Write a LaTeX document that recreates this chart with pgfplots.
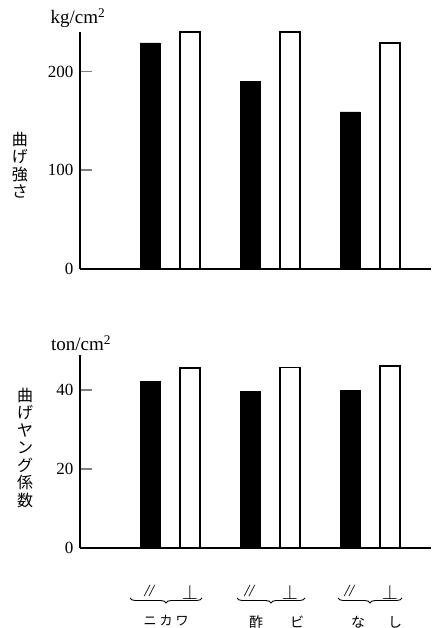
\documentclass[border=0pt]{standalone}
\usepackage{pgfplots}
\pgfplotsset{compat=1.18}
\usepackage{fontspec}
\setmainfont{Liberation Serif}
\newfontfamily\cjk{Noto Sans CJK JP}
\usetikzlibrary{decorations.pathreplacing}
\newcommand{\perpb}{{\fontsize{21}{21}\selectfont$\perp$}}
\begin{document}
\begin{tikzpicture}
\path[use as bounding box] (0pt,0pt) rectangle (431pt,628pt);
\pgfplotsset{myax/.style={
  scale only axis, width=351pt, xmin=0, xmax=35.1, ymin=0,
  axis x line=bottom, axis y line=left,
  axis line style={-, line width=1.3pt},
  tick align=inside, major tick length=12pt,
  ytick style={line width=1.6pt},
  xtick style={draw=none},
  ybar, bar shift=0pt, bar width=20pt,
  tick label style={font=\fontsize{17}{17}\selectfont},
  yticklabel style={xshift=-3pt},
  /pgf/number format/assume math mode=true,
  clip=false,
}}
% top panel: bending strength
\begin{axis}[myax, at={(80pt,359pt)}, anchor=south west, height=237pt,
  ymax=240, ytick={0,100,200}, xtick=\empty]
\addplot[fill=black, draw=black] coordinates {(7,229) (17,190) (27,159)};
\addplot[fill=white, draw=black, line width=1.3pt] coordinates {(11,240) (21,240) (31,229)};
\end{axis}
% bottom panel: bending Young's modulus
\begin{axis}[myax, at={(80pt,80pt)}, anchor=south west, height=193pt,
  ymax=48.9, ytick={0,20,40},
  xtick={7,11,17,21,27,31},
  xticklabels={\textit{//},\perpb,\textit{//},\perpb,\textit{//},\perpb},
  xticklabel style={yshift=-22pt}]
\addplot[fill=black, draw=black] coordinates {(7,42.3) (17,39.7) (27,40.0)};
\addplot[fill=white, draw=black, line width=1.3pt] coordinates {(11,45.6) (21,45.8) (31,46.1)};
\end{axis}
% units and axis titles
\node[font=\fontsize{19}{19}\selectfont] at (78pt,610pt) {kg/cm\textsuperscript{2}};
\node[font=\fontsize{19}{19}\selectfont] at (81pt,285pt) {ton/cm\textsuperscript{2}};
\node[font=\cjk\fontsize{16}{17.5}\selectfont, align=center] at (20pt,463pt) {曲\\げ\\強\\さ};
\node[font=\cjk\fontsize{16}{17.5}\selectfont, align=center] at (25pt,180pt) {曲\\げ\\ヤ\\ン\\グ\\係\\数};
% braces and group names
\draw[line width=0.9pt, decorate, decoration={brace, mirror, amplitude=5pt}] (130pt,30pt) -- (202pt,30pt);
\draw[line width=0.9pt, decorate, decoration={brace, mirror, amplitude=5pt}] (237pt,30pt) -- (305pt,30pt);
\draw[line width=0.9pt, decorate, decoration={brace, mirror, amplitude=5pt}] (338pt,30pt) -- (402pt,30pt);
\node[font=\cjk\fontsize{13}{13}\selectfont] at (150pt,7pt) {ニ};
\node[font=\cjk\fontsize{13}{13}\selectfont] at (166pt,7pt) {カ};
\node[font=\cjk\fontsize{13}{13}\selectfont] at (182pt,7pt) {ワ};
\node[font=\cjk\fontsize{14}{14}\selectfont] at (256pt,6pt) {酢};
\node[font=\cjk\fontsize{14}{14}\selectfont] at (297pt,6pt) {ビ};
\node[font=\cjk\fontsize{14}{14}\selectfont] at (358pt,6pt) {な};
\node[font=\cjk\fontsize{14}{14}\selectfont] at (395pt,6pt) {し};
\end{tikzpicture}
\end{document}
